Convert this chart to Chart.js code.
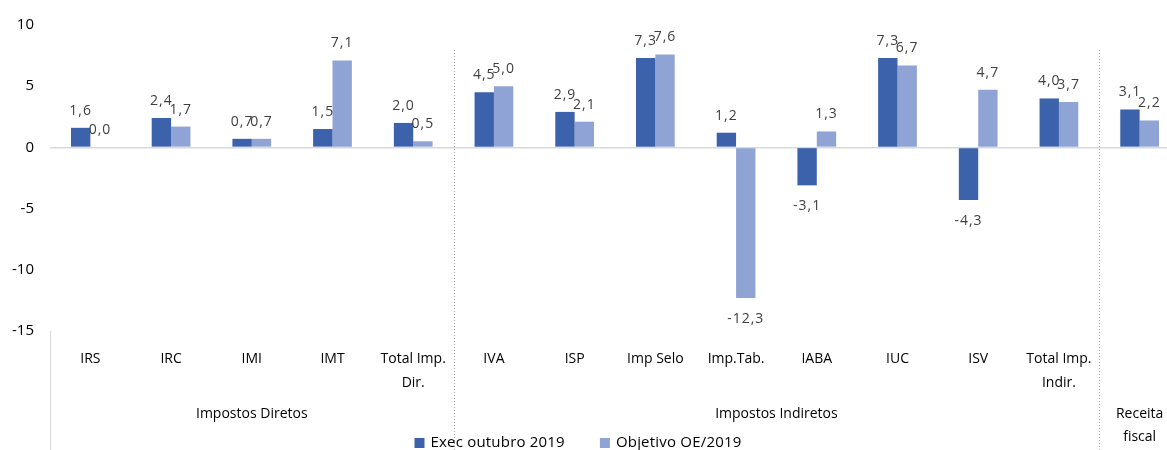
<!DOCTYPE html>
<html>
<head>
<meta charset="utf-8">
<script src="https://cdn.jsdelivr.net/npm/chart.js@4.4.1/dist/chart.umd.min.js"></script>
<style>
  html, body { margin: 0; padding: 0; background: #fff; overflow: hidden; }
  /* o gráfico original está cortado à direita */
  #wrap { width: 1180px; height: 450px; }
</style>
</head>
<body>
<div id="wrap"><canvas id="taxChart"></canvas></div>
<script>
// categorias e grupos
const categories = ['IRS', 'IRC', 'IMI', 'IMT', ['Total Imp.', 'Dir.'], 'IVA', 'ISP', 'Imp Selo', 'Imp.Tab.', 'IABA', 'IUC', 'ISV', ['Total Imp.', 'Indir.'], ''];
const groups = [
  { label: ['Impostos Diretos'], from: 0, to: 4 },
  { label: ['Impostos Indiretos'], from: 5, to: 12 },
  { label: ['Receita', 'fiscal'], from: 13, to: 13 }
];
const execOutubro = [1.6, 2.4, 0.7, 1.5, 2.0, 4.5, 2.9, 7.3, 1.2, -3.1, 7.3, -4.3, 4.0, 3.1];
const objetivoOE = [0.0, 1.7, 0.7, 7.1, 0.5, 5.0, 2.1, 7.6, -12.3, 1.3, 6.7, 4.7, 3.7, 2.2];
const yTicks = [10, 5, 0, -5, -10, -15];

const FONT = '"Open Sans", Lato, sans-serif';

const fmt = v => v.toFixed(1).replace('.', ',');

// rótulos de dados, separadores, grupos e legenda
const extras = {
  id: 'extras',
  afterDatasetsDraw(chart) {
    const ctx = chart.ctx;
    const area = chart.chartArea;
    const xs = chart.scales.x;
    ctx.save();

    // valores em cima / em baixo das barras
    ctx.font = '14px ' + FONT;
    ctx.fillStyle = '#404040';
    ctx.textAlign = 'center';
    ctx.letterSpacing = '1px';
    chart.data.datasets.forEach((ds, i) => {
      chart.getDatasetMeta(i).data.forEach((bar, j) => {
        const v = ds.data[j];
        if (v >= 0) {
          ctx.textBaseline = 'bottom';
          ctx.fillText(fmt(v), bar.x, bar.y - 10);
        } else {
          ctx.textBaseline = 'top';
          ctx.fillText(fmt(v), bar.x, bar.y + 14);
        }
      });
    });
    ctx.letterSpacing = '0px';

    // linha à esquerda da zona das categorias
    const left = Math.round(area.left) + 0.5;
    ctx.strokeStyle = '#d9d9d9';
    ctx.lineWidth = 1;
    ctx.beginPath();
    ctx.moveTo(left, area.bottom);
    ctx.lineTo(left, chart.height);
    ctx.stroke();

    // separadores entre grupos (pontilhado)
    const step = xs.getPixelForValue(1) - xs.getPixelForValue(0);
    ctx.strokeStyle = '#a6a6a6';
    ctx.setLineDash([1, 2]);
    groups.slice(1).forEach(g => {
      const x = Math.round(xs.getPixelForValue(g.from) - step / 2) + 0.5;
      ctx.beginPath();
      ctx.moveTo(x, 50);
      ctx.lineTo(x, chart.height);
      ctx.stroke();
    });
    ctx.setLineDash([]);

    // nomes dos grupos
    ctx.font = '14px ' + FONT;
    ctx.fillStyle = '#000';
    ctx.textBaseline = 'middle';
    groups.forEach(g => {
      const x = (xs.getPixelForValue(g.from) + xs.getPixelForValue(g.to)) / 2;
      g.label.forEach((line, k) => ctx.fillText(line, x, 414 + k * 23));
    });

    // legenda
    ctx.font = '15px ' + FONT;
    ctx.letterSpacing = '0.2px';
    ctx.textAlign = 'left';
    const items = chart.data.datasets.map(ds => ({ text: ds.label, color: ds.backgroundColor, w: ctx.measureText(ds.label).width }));
    const total = items.reduce((s, it) => s + 16 + it.w, 0) + 35 * (items.length - 1);
    let x = 578 - total / 2;
    const y = 443;
    items.forEach(it => {
      ctx.fillStyle = it.color;
      ctx.fillRect(x, y - 5, 10, 10);
      ctx.fillStyle = '#000';
      ctx.fillText(it.text, x + 16, y);
      x += 16 + it.w + 35;
    });
    ctx.restore();
  }
};

new Chart(document.getElementById('taxChart'), {
  type: 'bar',
  data: {
    labels: categories,
    datasets: [
      {
        label: 'Exec outubro 2019',
        data: execOutubro,
        backgroundColor: '#3b62ab',
        categoryPercentage: 0.48,
        barPercentage: 1.0
      },
      {
        label: 'Objetivo OE/2019',
        data: objetivoOE,
        backgroundColor: '#8fa4d4',
        categoryPercentage: 0.48,
        barPercentage: 1.0
      }
    ]
  },
  options: {
    responsive: true,
    maintainAspectRatio: false,
    animation: false,
    layout: { padding: { top: 25, right: 0, left: 0, bottom: 0 } },
    plugins: {
      tooltip: { enabled: false },
      legend: { display: false }
    },
    scales: {
      x: {
        grid: { display: false },
        border: { display: false },
        ticks: {
          font: { family: FONT, size: 14, lineHeight: 1.7 },
          color: '#000',
          maxRotation: 0,
          autoSkip: false,
          padding: 8
        },
        afterFit(scale) { scale.height = 119; }
      },
      y: {
        min: -15,
        max: 10,
        afterBuildTicks(scale) { scale.ticks = yTicks.map(v => ({ value: v })); },
        border: { display: false },
        grid: {
          drawTicks: false,
          color: c => (c.tick && c.tick.value === 0 ? '#d9d9d9' : 'rgba(0,0,0,0)'),
          lineWidth: 1.5
        },
        ticks: {
          font: { family: FONT, size: 15 },
          color: '#000',
          padding: 16
        },
        afterFit(scale) { scale.width = 50; }
      }
    }
  },
  plugins: [extras]
});
</script>
</body>
</html>
